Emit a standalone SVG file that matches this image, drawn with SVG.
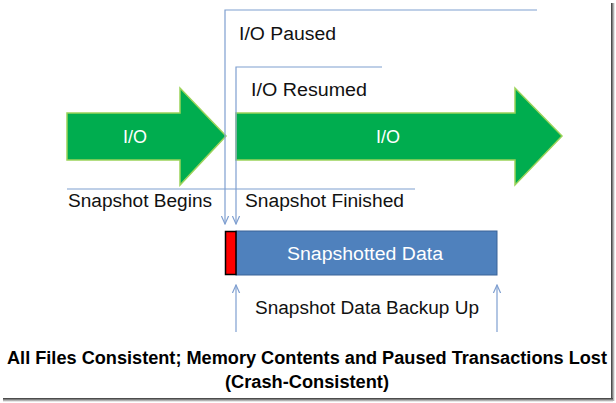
<svg xmlns="http://www.w3.org/2000/svg" width="616" height="403" viewBox="0 0 616 403">
<defs>
<style>
.ln{stroke:#7f9fd0;stroke-width:1.2;fill:none}
.t{font-family:"Liberation Sans",Arial,sans-serif;font-size:18px;fill:#111}
.w{font-family:"Liberation Sans",Arial,sans-serif;font-size:18px;fill:#fff}
.b{font-family:"Liberation Sans",Arial,sans-serif;font-size:17.5px;font-weight:bold;fill:#000}
.arrow{fill:#00ad4f;stroke:#9bd35a;stroke-width:1.5}
</style>
<marker id="ah" viewBox="0 0 10 10" refX="9" refY="5" markerWidth="9" markerHeight="9" orient="auto" markerUnits="userSpaceOnUse">
<path d="M0,1 L9,5 L0,9" fill="none" stroke="#7f9fd0" stroke-width="1.3"/>
</marker>
<linearGradient id="shR" x1="0" y1="0" x2="1" y2="0">
<stop offset="0" stop-color="#333"/><stop offset="1" stop-color="#fff"/>
</linearGradient>
<linearGradient id="shB" x1="0" y1="0" x2="0" y2="1">
<stop offset="0" stop-color="#333"/><stop offset="1" stop-color="#fff"/>
</linearGradient>
</defs>
<rect x="0" y="0" width="616" height="403" fill="#fff"/>
<rect x="611" y="3" width="4" height="398" fill="url(#shR)"/>
<rect x="3" y="398" width="610" height="4" fill="url(#shB)"/>

<g id="io-arrow-1">
<path class="arrow" d="M67,113 L180,113 L180,88 L226,136 L180,185 L180,160 L67,160 Z"/>
<text class="w" x="135" y="143" text-anchor="middle">I/O</text>
</g>
<g id="io-arrow-2">
<path class="arrow" d="M236,113 L515,113 L515,88 L562,136 L515,185 L515,160 L236,160 Z"/>
<text class="w" x="388" y="143" text-anchor="middle">I/O</text>
</g>

<g id="connectors">
<path class="ln" d="M537,10 L225,10 L225,224" marker-end="url(#ah)"/>
<path class="ln" d="M382,67 L236,67 L236,224" marker-end="url(#ah)"/>
<path class="ln" d="M67,189 L415,189"/>
<path class="ln" d="M236,332 L236,285" marker-end="url(#ah)"/>
<path class="ln" d="M497,332 L497,285" marker-end="url(#ah)"/>
</g>

<g id="label-paused"><text class="t" x="239" y="40" textLength="97" lengthAdjust="spacingAndGlyphs">I/O Paused</text></g>
<g id="label-resumed"><text class="t" x="251" y="96" textLength="116" lengthAdjust="spacingAndGlyphs">I/O Resumed</text></g>
<g id="label-begins"><text class="t" x="68" y="207" textLength="144" lengthAdjust="spacingAndGlyphs">Snapshot Begins</text></g>
<g id="label-finished"><text class="t" x="245" y="207" textLength="159" lengthAdjust="spacingAndGlyphs">Snapshot Finished</text></g>

<g id="snapshot-box">
<rect x="236" y="231" width="261" height="44" fill="#4f81bd" stroke="#3a6397" stroke-width="1"/>
<rect x="225.5" y="231.5" width="10.5" height="43" fill="#f00" stroke="#000" stroke-width="1.5"/>
<text class="w" x="365" y="260" text-anchor="middle" textLength="156" lengthAdjust="spacingAndGlyphs">Snapshotted Data</text>
</g>

<g id="label-backup"><text class="t" x="367" y="314" text-anchor="middle" textLength="224" lengthAdjust="spacingAndGlyphs">Snapshot Data Backup Up</text></g>
<g id="summary">
<text class="b" x="307" y="364" text-anchor="middle" textLength="600" lengthAdjust="spacingAndGlyphs">All Files Consistent; Memory Contents and Paused Transactions Lost</text>
<text class="b" x="307" y="388" text-anchor="middle" textLength="164" lengthAdjust="spacingAndGlyphs">(Crash-Consistent)</text>
</g>
</svg>
